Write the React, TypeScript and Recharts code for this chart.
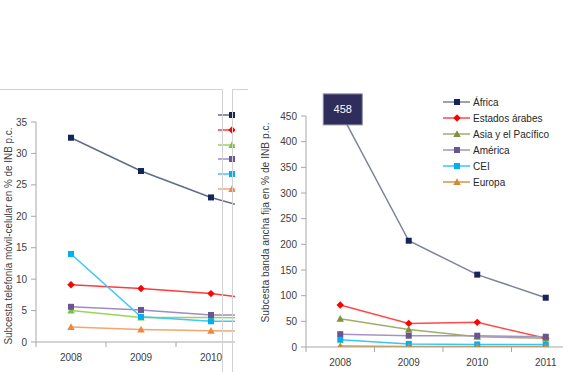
import React from 'react';
import { LineChart, Line, XAxis, YAxis, Legend, Label, LabelList } from 'recharts';

const FONT = "'Liberation Sans', Arial, sans-serif";

const years = ['2008', '2009', '2010', '2011'];
const seriesNames = ['África', 'Estados árabes', 'Asia y el Pacífico', 'América', 'CEI', 'Europa'];
const seriesKeys = ['africa', 'arabes', 'asia', 'america', 'cei', 'europa'];
const seriesShapes = ['square', 'diamond', 'triangle', 'square', 'square', 'triangle'];

// Subcesta telefonía móvil-celular (% INB p.c.)
const movAfrica = [32.5, 27.2, 23.0, 19.8];
const movArabes = [9.1, 8.5, 7.7, 6.3];
const movAsia = [5.0, 3.9, 3.9, 3.8];
const movAmerica = [5.6, 5.1, 4.3, 4.3];
const movCEI = [14.0, 4.0, 3.3, 3.3];
const movEuropa = [2.4, 2.0, 1.8, 1.7];

// Subcesta banda ancha fija (% INB p.c.)
const bbAfrica = [458, 207, 141, 96];
const bbArabes = [82, 46, 48, 17];
const bbAsia = [55, 34, 20, 17];
const bbAmerica = [25, 22, 22, 20];
const bbCEI = [14, 6, 5, 5];
const bbEuropa = [2, 1, 1, 1];

const movTicks = [0, 5, 10, 15, 20, 25, 30, 35];
const bbTicks = [0, 50, 100, 150, 200, 250, 300, 350, 400, 450];
const xTicks = [-0.5, 0, 0.5, 1, 1.5, 2, 2.5, 3, 3.5];

const leftLineColors = ['#5f6c8c', '#ff3b3b', '#9ad45a', '#a08cc4', '#3cc8f8', '#f5a66e'];
const leftMarkColors = ['#17245a', '#ff0000', '#7cc242', '#6a5494', '#00b0f0', '#f0883a'];
const rightLineColors = ['#7d8398', '#ff4a4a', '#9fae6c', '#a693c4', '#3cc4f4', '#d8953e'];
const rightMarkColors = ['#17245a', '#ff0000', '#7a943c', '#6a5494', '#00b0f0', '#d08a30'];

const movSeries = [movAfrica, movArabes, movAsia, movAmerica, movCEI, movEuropa];
const bbSeries = [bbAfrica, bbArabes, bbAsia, bbAmerica, bbCEI, bbEuropa];

const buildRows = (series: number[][]) =>
  years.map((year, i) => {
    const row: Record<string, any> = { i, year };
    seriesKeys.forEach((k, s) => {
      row[k] = series[s][i];
    });
    return row;
  });

const leftData = buildRows(movSeries);
const rightData = buildRows(bbSeries);

const AXIS = '#a8a8a8';
const TEXT = '#404040';

function Marker({ cx, cy, shape, fill, size }: any) {
  if (cx == null || cy == null) return null;
  const s = size;
  if (shape === 'square') {
    return <rect x={cx - s / 2} y={cy - s / 2} width={s} height={s} fill={fill} />;
  }
  if (shape === 'diamond') {
    const h = s * 0.62;
    return (
      <polygon
        points={`${cx},${cy - h} ${cx + h},${cy} ${cx},${cy + h} ${cx - h},${cy}`}
        fill={fill}
      />
    );
  }
  const h = s * 0.62;
  return (
    <polygon
      points={`${cx},${cy - h} ${cx + h},${cy + h * 0.8} ${cx - h},${cy + h * 0.8}`}
      fill={fill}
    />
  );
}

const XTick = (props: any) => {
  const { x, y, payload } = props;
  const v = payload.value;
  if (Number.isInteger(v)) {
    return (
      <text
        x={x}
        y={y + 15}
        textAnchor="middle"
        dominantBaseline="central"
        fontSize={10}
        fontFamily={FONT}
        fill={TEXT}
      >
        {years[v]}
      </text>
    );
  }
  return <line x1={x} y1={y} x2={x} y2={y + 5} stroke={AXIS} strokeWidth={1} />;
};

const makeLegend = (lineColors: string[], markColors: string[], itemH: number) => (props: any) => {
  const payload = [...(props.payload || [])].sort(
    (a: any, b: any) => seriesKeys.indexOf(a.dataKey) - seriesKeys.indexOf(b.dataKey)
  );
  return (
    <div style={{ fontFamily: FONT, fontSize: 10, color: '#262626' }}>
      {payload.map((p: any) => {
        const idx = seriesKeys.indexOf(p.dataKey);
        return (
          <div
            key={p.dataKey}
            style={{ display: 'flex', alignItems: 'center', height: itemH, whiteSpace: 'nowrap' }}
          >
            <svg width={27} height={10} style={{ display: 'block' }}>
              <line x1={0} y1={5} x2={27} y2={5} stroke={lineColors[idx]} strokeWidth={1.5} />
              <Marker cx={14} cy={5} shape={seriesShapes[idx]} fill={markColors[idx]} size={6} />
            </svg>
            <span style={{ marginLeft: 3 }}>{p.value}</span>
          </div>
        );
      })}
    </div>
  );
};

const yLabel = (text: string, dx: number, dy: number, len: number) => (props: any) => {
  const vb = props.viewBox || {};
  const cx = (vb.x || 0) + dx;
  const cy = (vb.y || 0) + (vb.height || 0) / 2 + dy;
  return (
    <text
      x={cx}
      y={cy}
      transform={`rotate(-90, ${cx}, ${cy})`}
      textAnchor="middle"
      dominantBaseline="central"
      fontSize={10}
      fontFamily={FONT}
      fill={TEXT}
      textLength={len}
      lengthAdjust="spacingAndGlyphs"
    >
      {text}
    </text>
  );
};

const BoxLabel = (props: any) => {
  const { x, y, index, value } = props;
  if (index !== 0) return null;
  return (
    <g>
      <rect x={x - 17} y={y - 18} width={39} height={31} fill="#2e2d5c" stroke="#8c8ca4" strokeWidth={1} />
      <text
        x={x + 2.5}
        y={y - 2.5}
        textAnchor="middle"
        dominantBaseline="central"
        fontSize={11}
        fontFamily={FONT}
        fill="#ffffff"
      >
        {value}
      </text>
    </g>
  );
};

const renderLines = (lineColors: string[], markColors: string[], withBox: boolean) =>
  seriesKeys.map((k, s) => (
    <Line
      key={k}
      type="linear"
      dataKey={k}
      name={seriesNames[s]}
      stroke={lineColors[s]}
      strokeWidth={1.5}
      isAnimationActive={false}
      activeDot={false}
      dot={(p: any) => (
        <Marker key={`${k}-${p.index}`} cx={p.cx} cy={p.cy} shape={seriesShapes[s]} fill={markColors[s]} size={6} />
      )}
    >
      {withBox && s === 0 ? <LabelList dataKey={k} content={BoxLabel} /> : null}
    </Line>
  ));

export default function App() {
  return (
    <div
      style={{
        position: 'absolute',
        left: 0,
        top: 0,
        width: 563,
        height: 372,
        overflow: 'hidden',
        background: '#ffffff',
      }}
    >
      {/* left panel (cropped) */}
      <div style={{ position: 'absolute', left: 0, top: 0, width: 235, height: 372, overflow: 'hidden' }}>
        <LineChart width={340} height={372} data={leftData} margin={{ top: 122, right: 24, bottom: 0, left: 0 }}>
          <XAxis
            dataKey="i"
            type="number"
            domain={[-0.5, 3.5]}
            ticks={xTicks}
            interval={0}
            tick={<XTick />}
            tickLine={false}
            tickSize={0}
            tickMargin={0}
            axisLine={{ stroke: AXIS }}
            height={30}
          />
          <YAxis
            domain={[0, 35]}
            ticks={movTicks}
            interval={0}
            width={36}
            tickSize={5}
            tickMargin={4}
            tickLine={{ stroke: AXIS }}
            axisLine={{ stroke: AXIS }}
            tick={{ fontSize: 10, fontFamily: FONT, fill: TEXT }}
          >
            <Label content={yLabel('Subcesta telefonía móvil-celular  en % de INB p.c.', 8, 4, 217)} />
          </YAxis>
          <Legend
            layout="vertical"
            align="center"
            verticalAlign="middle"
            content={makeLegend(leftLineColors, leftMarkColors, 14.7)}
            wrapperStyle={{ position: 'absolute', left: 218, top: 108, width: 200 }}
          />
          {renderLines(leftLineColors, leftMarkColors, false)}
        </LineChart>
      </div>

      {/* panel borders */}
      <div
        style={{
          position: 'absolute',
          left: 0,
          top: 89,
          width: 222,
          height: 290,
          borderTop: '1px solid #d2d2d2',
          borderRight: '1px solid #d2d2d2',
          pointerEvents: 'none',
        }}
      />
      <div
        style={{
          position: 'absolute',
          left: 232,
          top: 89,
          width: 15,
          height: 290,
          borderTop: '1px solid #d2d2d2',
          borderLeft: '1px solid #d2d2d2',
          pointerEvents: 'none',
        }}
      />

      {/* right panel */}
      <div style={{ position: 'absolute', left: 240, top: 0, width: 323, height: 372, overflow: 'hidden' }}>
        <LineChart width={360} height={372} data={rightData} margin={{ top: 116, right: 20, bottom: 0, left: 0 }}>
          <XAxis
            dataKey="i"
            type="number"
            domain={[-0.5, 3.5]}
            ticks={xTicks}
            interval={0}
            tick={<XTick />}
            tickLine={false}
            tickSize={0}
            tickMargin={0}
            axisLine={{ stroke: AXIS }}
            height={25}
          />
          <YAxis
            domain={[0, 450]}
            ticks={bbTicks}
            interval={0}
            allowDataOverflow
            width={66}
            tickSize={5}
            tickMargin={4}
            tickLine={{ stroke: AXIS }}
            axisLine={{ stroke: AXIS }}
            tick={{ fontSize: 10, fontFamily: FONT, fill: TEXT }}
          >
            <Label content={yLabel('Subcesta banda ancha fija en  % de INB p.c.', 25, -9, 200)} />
          </YAxis>
          <Legend
            layout="vertical"
            align="center"
            verticalAlign="middle"
            content={makeLegend(rightLineColors, rightMarkColors, 16)}
            wrapperStyle={{ position: 'absolute', left: 203, top: 94, width: 130 }}
          />
          {renderLines(rightLineColors, rightMarkColors, true)}
        </LineChart>
      </div>
    </div>
  );
}
